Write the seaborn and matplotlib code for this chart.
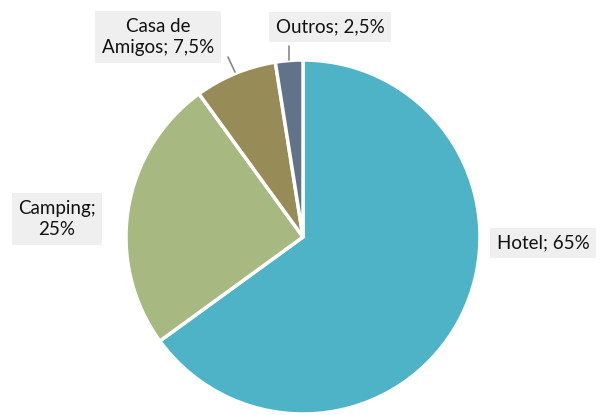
import matplotlib
matplotlib.use("Agg")
import matplotlib.pyplot as plt
import seaborn as sns

# data
categorias = ["Hotel", "Camping", "Casa de\nAmigos", "Outros"]
percentuais = [65, 25, 7.5, 2.5]
rotulos = ["Hotel; 65%", "Camping;\n25%", "Casa de\nAmigos; 7,5%", "Outros; 2,5%"]
cores = ["#4fb3c8", "#a7b880", "#978c57", "#607389"]

sns.set_theme(style="white")
plt.rcParams['font.family'] = ['Lato', 'DejaVu Sans']

fig = plt.figure(figsize=(6.11, 4.15), dpi=100)
ax = fig.add_axes([0, 0, 1, 1])

wedges, _ = ax.pie(percentuais, colors=sns.color_palette(cores), startangle=90,
                   counterclock=False, center=(303, 415 - 237), radius=177,
                   wedgeprops=dict(edgecolor="white", linewidth=2.5), frame=True)
ax.set_xlim(0, 611)
ax.set_ylim(0, 415)
ax.set_aspect("equal")
ax.axis("off")

box = dict(boxstyle="square,pad=0.35", facecolor="#efefef", edgecolor="none")
pos = [(543, 415 - 243), (57, 415 - 219), (158, 415 - 37), (330, 415 - 27)]
for txt, (x, y) in zip(rotulos, pos):
    ax.text(x, y, txt, ha="center", va="center", fontsize=13.5,
            color="#111111", bbox=box, linespacing=1.35)

# leader lines
ax.plot([228, 235], [415 - 57, 415 - 72], color="#888888", lw=1.2)
ax.plot([289, 289], [415 - 46, 415 - 60], color="#888888", lw=1.2)

fig.savefig("out.png", dpi=100)
